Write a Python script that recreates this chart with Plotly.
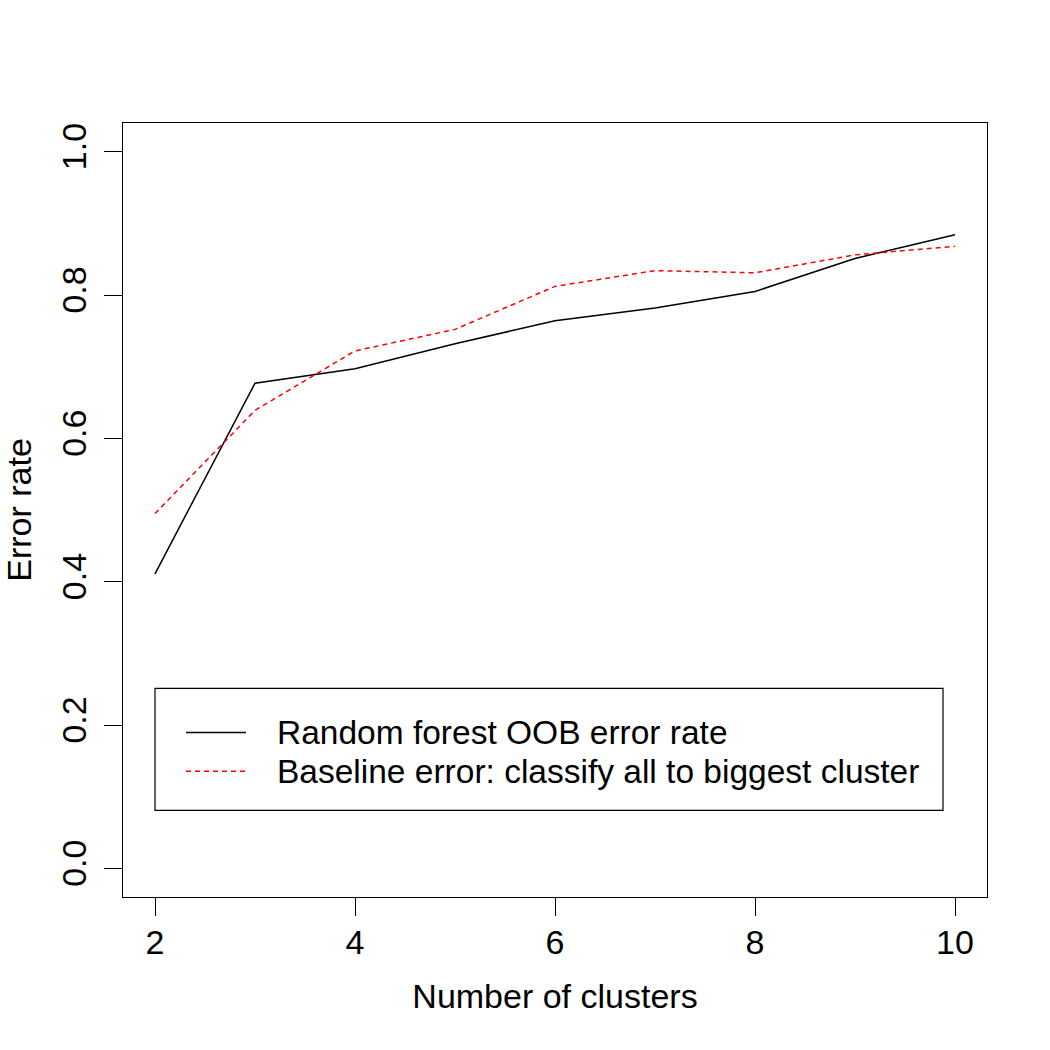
import plotly.graph_objects as go

clusters = [2, 3, 4, 5, 6, 7, 8, 9, 10]
rf_oob = [0.411, 0.677, 0.697, 0.732, 0.764, 0.782, 0.805, 0.851, 0.884]
baseline = [0.495, 0.639, 0.722, 0.752, 0.812, 0.834, 0.831, 0.856, 0.868]
x_ticks = [2, 4, 6, 8, 10]
y_ticks = [0.0, 0.2, 0.4, 0.6, 0.8, 1.0]
legend_labels = ["Random forest OOB error rate", "Baseline error: classify all to biggest cluster"]

FONT = "Liberation Sans, Arial, Helvetica, sans-serif"
FS = 34
FS_LEG = 33.5

fig = go.Figure()
fig.add_trace(go.Scatter(x=clusters, y=rf_oob, mode="lines",
                         line=dict(color="black", width=1.5), showlegend=False))
fig.add_trace(go.Scatter(x=clusters, y=baseline, mode="lines",
                         line=dict(color="red", width=1.5, dash="5px,4px"), showlegend=False))

# legend box (data coords, like R's legend)
fig.add_shape(type="rect", x0=2.0, x1=9.88, y0=0.081, y1=0.251, xref="x", yref="y",
              line=dict(color="black", width=1.2), fillcolor="rgba(0,0,0,0)")
fig.add_shape(type="line", x0=2.31, x1=2.91, y0=0.1897, y1=0.1897, xref="x", yref="y",
              line=dict(color="black", width=1.5))
fig.add_shape(type="line", x0=2.31, x1=2.91, y0=0.1353, y1=0.1353, xref="x", yref="y",
              line=dict(color="red", width=1.5, dash="5px,4px"))
for yy, lab in zip([0.1897, 0.1353], legend_labels):
    fig.add_annotation(x=3.20, y=yy, xref="x", yref="y", text=lab, showarrow=False,
                       xanchor="left", yanchor="middle",
                       font=dict(family=FONT, size=FS_LEG, color="black"))

fig.update_layout(
    width=1050, height=1050,
    margin=dict(l=123, r=63, t=123, b=153),
    paper_bgcolor="white", plot_bgcolor="white",
    font=dict(family=FONT, size=FS, color="black"),
)
fig.update_xaxes(range=[1.68, 10.32], tickvals=x_ticks, ticktext=[str(v) for v in x_ticks],
                 showgrid=False, zeroline=False, showline=True, mirror=True,
                 linecolor="black", linewidth=1.2, ticks="outside", ticklen=18,
                 tickcolor="black", tickwidth=1.2, ticklabelstandoff=-3,
                 title=dict(text="Number of clusters", standoff=24,
                            font=dict(family=FONT, size=FS)))
fig.update_yaxes(range=[-0.04, 1.04], tickvals=y_ticks, ticktext=[f"{v:.1f}" for v in y_ticks],
                 tickangle=-90,
                 showgrid=False, zeroline=False, showline=True, mirror=True,
                 linecolor="black", linewidth=1.2, ticks="outside", ticklen=18,
                 tickcolor="black", tickwidth=1.2, ticklabelstandoff=4,
                 title=dict(text="Error rate", standoff=20,
                            font=dict(family=FONT, size=FS)))

fig.write_html("out.html")
